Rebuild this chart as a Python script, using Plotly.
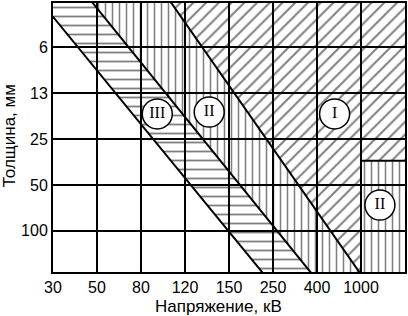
import plotly.graph_objects as go

# ---- data ----
voltage_labels = ['30', '50', '80', '120', '150', '250', '400', '1000']
thickness_labels = ['6', '13', '25', '50', '100']

# boundary lines (x = voltage grid position, y = thickness grid position)
b_III_low_x = [0.0, 4.75]
b_III_low_y = [0.33, 5.9]
b_II_III_x = [0.904, 5.85]
b_II_III_y = [0.03, 5.9]
b_I_II_x = [2.69, 6.96]
b_I_II_y = [0.03, 5.9]
box_II_x = [7.0, 8.0]
box_II_top = 3.47

zone_names = ['III', 'II', 'I', 'II']
zone_x = [2.37, 3.55, 6.40, 7.43]
zone_y = [2.45, 2.41, 2.45, 4.44]

X_RANGE = [0, 8]
Y_TOP, Y_BOT = 0.03, 5.9
EXT_TOP, EXT_BOT = -1.0, 7.0


def x_at(xs, ys, y):
    return xs[0] + (y - ys[0]) * (xs[1] - xs[0]) / (ys[1] - ys[0])


L1 = (b_III_low_x, b_III_low_y)
L2 = (b_II_III_x, b_II_III_y)
L3 = (b_I_II_x, b_I_II_y)

fig = go.Figure()


def hatch(xs, ys, shape, size, solidity):
    fig.add_trace(go.Scatter(
        x=xs, y=ys, mode='lines', fill='toself',
        fillcolor='rgba(0,0,0,0)',
        fillpattern=dict(shape=shape, fgcolor='black', bgcolor='rgba(0,0,0,0)',
                         size=size, solidity=solidity),
        line=dict(width=0), hoverinfo='skip', showlegend=False))


# zone III (horizontal hatching)
hatch([x_at(*L1, EXT_TOP), x_at(*L2, EXT_TOP), x_at(*L2, EXT_BOT), x_at(*L1, EXT_BOT), x_at(*L1, EXT_TOP)],
      [EXT_TOP, EXT_TOP, EXT_BOT, EXT_BOT, EXT_TOP], '-', 9, 0.2)
# zone II (vertical hatching)
hatch([x_at(*L2, EXT_TOP), x_at(*L3, EXT_TOP), x_at(*L3, EXT_BOT), x_at(*L2, EXT_BOT), x_at(*L2, EXT_TOP)],
      [EXT_TOP, EXT_TOP, EXT_BOT, EXT_BOT, EXT_TOP], '|', 7, 0.22)
hatch([box_II_x[0], 9, 9, box_II_x[0], box_II_x[0]],
      [box_II_top, box_II_top, EXT_BOT, EXT_BOT, box_II_top], '|', 7, 0.22)
# zone I (diagonal hatching)
hatch([x_at(*L3, EXT_TOP), 9, 9, box_II_x[0], box_II_x[0], x_at(*L3, Y_BOT), x_at(*L3, EXT_TOP)],
      [EXT_TOP, EXT_TOP, box_II_top, box_II_top, Y_BOT, Y_BOT, EXT_TOP], '/', 9, 0.22)

# boundary lines
for L in (L1, L2, L3):
    fig.add_trace(go.Scatter(x=[x_at(*L, EXT_TOP), x_at(*L, EXT_BOT)], y=[EXT_TOP, EXT_BOT],
                             mode='lines', line=dict(color='black', width=2),
                             hoverinfo='skip', showlegend=False))
fig.add_trace(go.Scatter(x=[box_II_x[0], 9], y=[box_II_top, box_II_top], mode='lines',
                         line=dict(color='black', width=2), hoverinfo='skip', showlegend=False))

# zone labels in circles
fig.add_trace(go.Scatter(
    x=zone_x, y=zone_y, mode='markers+text', text=zone_names, textposition='middle center',
    marker=dict(symbol='circle', size=30, color='white', line=dict(color='black', width=1.5)),
    textfont=dict(family='Liberation Serif, Times New Roman, serif', size=16, color='black'),
    hoverinfo='skip', showlegend=False))

font = dict(family='Liberation Sans, Arial, sans-serif', size=17, color='black')
tfont = dict(family='Liberation Sans, Arial, sans-serif', size=16, color='black')

fig.update_layout(
    width=408, height=316,
    margin=dict(l=53, r=1, t=1, b=44),
    paper_bgcolor='white', plot_bgcolor='white',
    font=font,
    xaxis=dict(range=X_RANGE, tickmode='array', tickvals=list(range(len(voltage_labels))),
               ticktext=voltage_labels, showgrid=True, gridcolor='black', gridwidth=2,
               zeroline=False, showline=True, mirror=True, linecolor='black', linewidth=2,
               ticks='', tickfont=tfont, fixedrange=True),
    yaxis=dict(range=[Y_BOT, Y_TOP], tickmode='array',
               tickvals=list(range(1, len(thickness_labels) + 1)),
               ticktext=thickness_labels, showgrid=True, gridcolor='black', gridwidth=2,
               zeroline=False, showline=True, mirror=True, linecolor='black', linewidth=2,
               ticks='', tickfont=tfont, fixedrange=True),
    annotations=[
        dict(text='Напряжение, кВ', xref='paper', yref='paper', x=(219 - 53) / 354, y=-(307 - 272) / 271,
             xanchor='center', yanchor='middle', showarrow=False, font=font),
        dict(text='Толщина, мм', xref='paper', yref='paper', x=-(53 - 9) / 354, y=(272 - 135) / 271,
             xanchor='center', yanchor='middle', textangle=-90, showarrow=False, font=font),
    ],
)

fig.write_html('out.html')
